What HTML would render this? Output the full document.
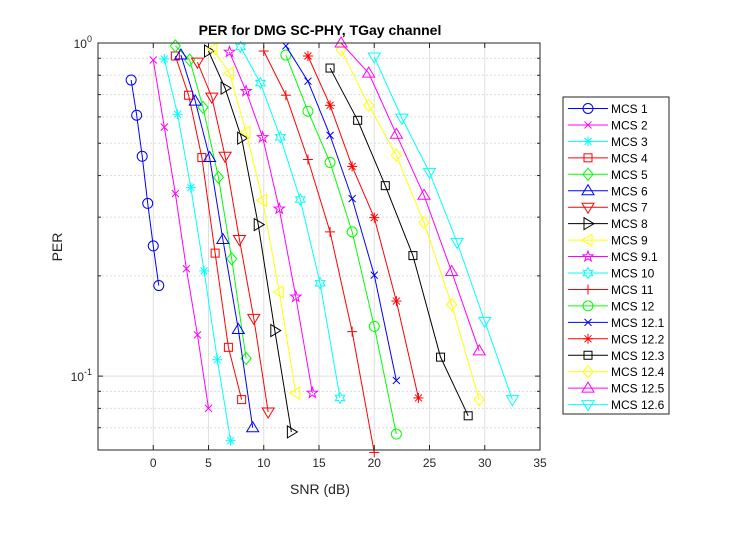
<!DOCTYPE html>
<html><head><meta charset="utf-8"><style>
body{margin:0;background:#fff;}
svg{display:block;font-family:"Liberation Sans",Arial,sans-serif;}
</style></head><body>
<svg id="chart" width="755" height="554" viewBox="0 0 755 554" xmlns="http://www.w3.org/2000/svg">
<rect width="755" height="554" fill="#fff"/>
<g id="grid"></g>
<g id="series"></g>
<g id="axes"></g>
<text x="320" y="35" text-anchor="middle" font-size="14" font-weight="bold" fill="#000">PER for DMG SC-PHY, TGay channel</text>
<text x="320" y="494" text-anchor="middle" font-size="14" fill="#262626">SNR (dB)</text>
<text x="62" y="247" text-anchor="middle" font-size="14" fill="#262626" transform="rotate(-90 62 247)">PER</text>
<g id="legend"></g>
</svg>
<script>
const xTicks=[0,5,10,15,20,25,30,35];
const names=["MCS 1","MCS 2","MCS 3","MCS 4","MCS 5","MCS 6","MCS 7","MCS 8","MCS 9","MCS 9.1","MCS 10","MCS 11","MCS 12","MCS 12.1","MCS 12.2","MCS 12.3","MCS 12.4","MCS 12.5","MCS 12.6"];
const colors=["#0000ff","#ff00ff","#00ffff","#ff0000","#00ff00","#0000ff","#ff0000","#000000","#ffff00","#ff00ff","#00ffff","#ff0000","#00ff00","#0000ff","#ff0000","#000000","#ffff00","#ff00ff","#00ffff"];
const markers=["o","x","*","s","d","^","v",">","<","p","h","+","o","x","*","s","d","^","v"];
const snr=[
[-2,-1.5,-1,-0.5,0,0.5],
[0,1,2,3,4,5],
[1,2.2,3.4,4.6,5.8,7],
[2,3.2,4.4,5.6,6.8,8],
[2,3.3,4.5,5.9,7.1,8.4],
[2.5,3.8,5.1,6.3,7.7,9],
[4,5.3,6.5,7.8,9.1,10.4],
[5,6.5,8,9.5,11,12.5],
[5.4,6.9,8.4,9.9,11.4,12.9],
[6.9,8.4,9.9,11.4,12.9,14.4],
[7.9,9.7,11.5,13.3,15.1,16.9],
[10,12,14,16,18,20],
[12,14,16,18,20,22],
[12,14,16,18,20,22],
[14,16,18,20,22,24],
[16,18.5,21,23.5,26,28.5],
[17,19.5,22,24.5,27,29.5],
[17,19.5,22,24.5,27,29.5],
[20,22.5,25,27.5,30,32.5]];
const per=[
[0.774,0.607,0.457,0.330,0.246,0.187],
[0.889,0.559,0.353,0.210,0.133,0.080],
[0.895,0.611,0.368,0.207,0.112,0.064],
[0.914,0.697,0.453,0.234,0.122,0.085],
[0.98,0.889,0.641,0.395,0.225,0.113],
[0.92,0.669,0.453,0.257,0.138,0.070],
[0.876,0.688,0.457,0.257,0.149,0.078],
[0.946,0.732,0.518,0.285,0.137,0.068],
[0.959,0.812,0.54,0.337,0.179,0.089],
[0.94,0.717,0.521,0.318,0.173,0.089],
[0.973,0.758,0.521,0.339,0.19,0.086],
[0.946,0.697,0.447,0.271,0.136,0.059],
[0.92,0.624,0.438,0.271,0.141,0.067],
[0.98,0.768,0.528,0.341,0.201,0.097],
[0.914,0.65,0.426,0.299,0.168,0.086],
[0.841,0.586,0.373,0.23,0.114,0.076],
[0.953,0.65,0.46,0.289,0.164,0.085],
[1.0,0.812,0.532,0.349,0.206,0.119],
[0.908,0.595,0.409,0.252,0.146,0.085]];
const L=98,R=540,T=43,B=450,xmin=-5,xmax=35,ymin=0.06,ymax=1;
const X=v=>L+(v-xmin)/(xmax-xmin)*(R-L);
const Y=v=>T+(Math.log10(ymax)-Math.log10(v))/(Math.log10(ymax)-Math.log10(ymin))*(B-T);
const NS="http://www.w3.org/2000/svg";
function mk(tag,attrs,parent){const e=document.createElementNS(NS,tag);for(const k in attrs)e.setAttribute(k,attrs[k]);parent.appendChild(e);return e;}
const grid=document.getElementById('grid'),axes=document.getElementById('axes'),ser=document.getElementById('series'),leg=document.getElementById('legend');
mk('rect',{x:L,y:T,width:R-L,height:B-T,fill:'#fff'},grid);
xTicks.forEach(t=>{const x=X(t);
 const g=mk('line',{x1:x,x2:x,y1:T,y2:B,stroke:'#dfdfdf','stroke-width':1},grid);
 
 mk('line',{x1:x,x2:x,y1:B,y2:B-5,stroke:'#262626'},axes);mk('line',{x1:x,x2:x,y1:T,y2:T+5,stroke:'#262626'},axes);
 const tx=mk('text',{x:x,y:B+17,'text-anchor':'middle','font-size':12,fill:'#262626'},axes);tx.textContent=t;
 });
[0.07,0.08,0.09,0.2,0.3,0.4,0.5,0.6,0.7,0.8,0.9].forEach(v=>{const y=Y(v);
 mk('line',{x1:L,x2:R,y1:y,y2:y,stroke:'#dcdcdc','stroke-dasharray':'2,2'},grid);
 mk('line',{x1:L,x2:L+3,y1:y,y2:y,stroke:'#262626'},axes);mk('line',{x1:R,x2:R-3,y1:y,y2:y,stroke:'#262626'},axes);});
[0.1,1].forEach((v,i)=>{const y=Y(v);
 mk('line',{x1:L,x2:R,y1:y,y2:y,stroke:'#dfdfdf'},grid);
 mk('line',{x1:L,x2:L+5,y1:y,y2:y,stroke:'#262626'},axes);mk('line',{x1:R,x2:R-5,y1:y,y2:y,stroke:'#262626'},axes);
 const tx=mk('text',{x:L-6,y:y+5,'text-anchor':'end','font-size':12,fill:'#262626'},axes);
 tx.innerHTML='10<tspan dy="-6" font-size="9">'+(i?'0':'-1')+'</tspan>';
 });
mk('rect',{x:L,y:T,width:R-L,height:B-T,fill:'none',stroke:'#262626','stroke-width':1},axes);
function marker(m,x,y,c,p){const s=5;let a={fill:'none',stroke:c,'stroke-width':1};
 if(m==='o')return mk('circle',Object.assign({cx:x,cy:y,r:s},a),p);
 if(m==='s')return mk('rect',Object.assign({x:x-4,y:y-4,width:8,height:8},a),p);
 let pts;
 if(m==='d')pts=[[0,-6],[5,0],[0,6],[-5,0]];
 if(m==='^')pts=[[0,-6],[6,4],[-6,4]];
 if(m==='v')pts=[[0,6],[6,-4],[-6,-4]];
 if(m==='>')pts=[[6,0],[-4,-6],[-4,6]];
 if(m==='<')pts=[[-6,0],[4,-6],[4,6]];
 if(m==='p'){pts=[];for(let i=0;i<10;i++){const r=i%2?2.2:5.5,t=-Math.PI/2+i*Math.PI/5;pts.push([r*Math.cos(t),r*Math.sin(t)]);}}
 if(m==='h'){pts=[];for(let i=0;i<12;i++){const r=i%2?3:5.5,t=-Math.PI/2+i*Math.PI/6;pts.push([r*Math.cos(t),r*Math.sin(t)]);}}
 if(pts)return mk('polygon',Object.assign({points:pts.map(q=>(x+q[0])+','+(y+q[1])).join(' ')},a),p);
 const g=mk('g',{stroke:c,'stroke-width':1},p);
 if(m==='+'||m==='*'){mk('line',{x1:x-5,x2:x+5,y1:y,y2:y},g);mk('line',{x1:x,x2:x,y1:y-5,y2:y+5},g);}
 if(m==='x'||m==='*'){const d=m==='x'?3.5:3.5;mk('line',{x1:x-d,x2:x+d,y1:y-d,y2:y+d},g);mk('line',{x1:x-d,x2:x+d,y1:y+d,y2:y-d},g);}
 return g;}
names.forEach((n,i)=>{const g=mk('g',{},ser);
 
 
 const pts=snr[i].map((v,j)=>X(v)+','+Y(per[i][j])).join(' ');
 mk('polyline',{points:pts,fill:'none',stroke:colors[i],'stroke-width':1},g);
 snr[i].forEach((v,j)=>{const m=marker(markers[i],X(v),Y(per[i][j]),colors[i],g);
  });});
const lb=mk('rect',{x:563,y:97,width:106,height:317,fill:'#fff',stroke:'#262626'},leg);

names.forEach((n,i)=>{const y=108.5+i*16.45;const g=mk('g',{},leg);
 
 mk('line',{x1:568,x2:608,y1:y,y2:y,stroke:colors[i]},g);marker(markers[i],588,y,colors[i],g);
 const t=mk('text',{x:611,y:y+4.5,'font-size':12,fill:'#000'},g);t.textContent=n;});
</script>
</body></html>
